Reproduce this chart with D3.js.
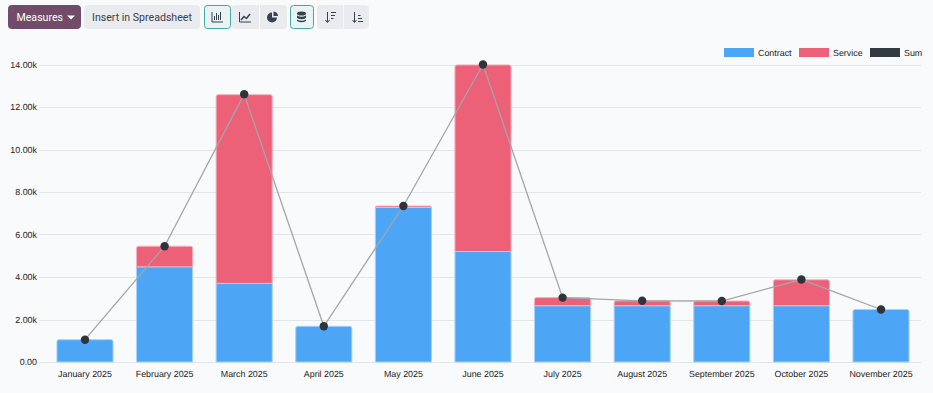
<!DOCTYPE html>
<html>
<head>
<meta charset="utf-8">
<script src="https://cdn.jsdelivr.net/npm/d3@7"></script>
<style>
html, body { margin: 0; padding: 0; background: #f9fafc; overflow: hidden; }
svg { display: block; }
.tool { font-family: Roboto, sans-serif; font-size: 10.6px; }
.axis text, .legend text { font-family: "Liberation Sans", Arial, sans-serif; font-size: 8.9px; fill: #222; text-rendering: geometricPrecision; }
</style>
</head>
<body>
<div class="container"></div>
<script>
const WIDTH = 933;
const HEIGHT = 393;

var months = ["January 2025", "February 2025", "March 2025", "April 2025", "May 2025", "June 2025",
    "July 2025", "August 2025", "September 2025", "October 2025", "November 2025"];
var contract = [1050, 4480, 3700, 1680, 7270, 5200, 2650, 2650, 2650, 2650, 2470];
var service = [0, 970, 8880, 0, 70, 8780, 380, 230, 220, 1220, 0];
var sum = [1050, 5450, 12600, 1680, 7340, 14000, 3030, 2880, 2870, 3880, 2470];
var yTicks = [0, 2000, 4000, 6000, 8000, 10000, 12000, 14000];
var legendItems = ["Contract", "Service", "Sum"];
var legendColors = ["#4ca6f5", "#ed6178", "#343a43"];

var xScale = d3.scaleBand().domain(months).range([45, 921]).paddingInner(0.295).paddingOuter(0.15);
var yScale = d3.scaleLinear().domain([0, 14000]).range([362, 64.5]);

var yFormat = function (v) {
    return v === 0 ? "0.00" : (v / 1000).toFixed(2) + "k";
};
var barPath = function (x, y, w, h, r) {
    r = Math.min(r, h);
    return "M" + x + "," + (y + h) + "V" + (y + r) + "Q" + x + "," + y + " " + (x + r) + "," + y +
        "H" + (x + w - r) + "Q" + (x + w) + "," + y + " " + (x + w) + "," + (y + r) + "V" + (y + h) + "Z";
};

var drawToolbar = function (svg) {
    var g = svg.append("g").attr("class", "tool");
    var btn = function (x, w, fill, stroke, r) {
        g.append("rect").attr("x", x + 0.5).attr("y", 5.5).attr("width", w - 1).attr("height", 23)
            .attr("rx", r === undefined ? 3 : r).attr("fill", fill).attr("stroke", stroke);
    };
    btn(8, 73, "#714b67", "#714b67");
    g.append("text").attr("x", 16.5).attr("y", 21).attr("fill", "#fff").text("Measures");
    g.append("path").attr("d", "M67,15.5h8l-4,4z").attr("fill", "#fff");
    btn(84, 116, "#e9ebee", "#e9ebee");
    g.append("text").attr("x", 92).attr("y", 21).attr("fill", "#374151").text("Insert in Spreadsheet");

    btn(231, 56, "#e9ebee", "#e9ebee");
    btn(290, 24, "#e8f3f4", "#4aa5a8");
    btn(317, 52, "#e9ebee", "#e9ebee");
    btn(204, 27, "#e8f3f4", "#4aa5a8");
    g.append("line").attr("x1", 259.5).attr("x2", 259.5).attr("y1", 5).attr("y2", 29).attr("stroke", "#fff");
    g.append("line").attr("x1", 343.5).attr("x2", 343.5).attr("y1", 5).attr("y2", 29).attr("stroke", "#f5f6f8");

    var ink = "#374151";
    // bar icon
    g.append("path").attr("fill", "none").attr("stroke", ink)
        .attr("d", "M212,12V22H223M214.5,20V16M216.5,20V13M218.5,20V15M220.5,20V12");
    // line icon
    g.append("path").attr("fill", "none").attr("stroke", ink).attr("d", "M239.5,12V22H251");
    g.append("path").attr("fill", "none").attr("stroke", ink).attr("stroke-width", 1.5)
        .attr("d", "M241,20L244,16.5L246.5,18.5L250,14");
    // pie icon
    g.append("path").attr("fill", ink).attr("d", "M272,12.5a5,5 0 1,0 5,5h-5zM273.5,11.5a5,5 0 0,1 4.5,4.5h-4.5z");
    // stack icon
    g.append("ellipse").attr("cx", 301.5).attr("cy", 13.5).attr("rx", 4.5).attr("ry", 2).attr("fill", ink);
    g.append("path").attr("fill", ink).attr("d", "M297,15.5q4.5,2.5 9,0v2.5q-4.5,2.5 -9,0z");
    g.append("path").attr("fill", ink).attr("d", "M297,19.5q4.5,2.5 9,0v1.5q-4.5,2.5 -9,0z");
    // sort icons
    g.append("path").attr("fill", "none").attr("stroke", ink)
        .attr("d", "M327.5,12V22M325.5,20L327.5,22.5L329.5,20M331,12.5H336M331,15.5H335M331,18.5H333.5");
    g.append("path").attr("fill", "none").attr("stroke", ink)
        .attr("d", "M354.5,12V22M352.5,20L354.5,22.5L356.5,20M358,21.5H363M358,18.5H362M358,15.5H360.5");
};

var loadChart = function () {
    var svg = d3.select(".container").append("svg")
        .attr("width", WIDTH)
        .attr("height", HEIGHT);

    drawToolbar(svg);

    var yAxis = d3.axisLeft(yScale).tickValues(yTicks).tickFormat(yFormat).tickSize(0).tickPadding(2);
    var yG = svg.append("g").attr("class", "axis").attr("transform", "translate(39,0)").call(yAxis);
    yG.select(".domain").remove();

    svg.append("g").selectAll("line").data(yTicks).enter().append("line")
        .attr("x1", 39)
        .attr("x2", 921)
        .attr("y1", function (d) { return Math.round(yScale(d)) + 0.5; })
        .attr("y2", function (d) { return Math.round(yScale(d)) + 0.5; })
        .attr("stroke", "#e3e5e9");

    var xAxis = d3.axisBottom(xScale).tickSize(0).tickPadding(9);
    var xG = svg.append("g").attr("class", "axis").attr("transform", "translate(0,362)").call(xAxis);
    xG.select(".domain").remove();

    var bars = svg.append("g");
    bars.selectAll(".contract").data(months).enter().append("path")
        .attr("class", "contract")
        .attr("d", function (m, i) {
            var y = yScale(contract[i]);
            return barPath(xScale(m), y, xScale.bandwidth(), yScale(0) - y, service[i] > 0 ? 0 : 2);
        })
        .attr("fill", legendColors[0])
        .attr("stroke", "#a6d2fa")
        .attr("stroke-width", 1);
    bars.selectAll(".service").data(months).enter().append("path")
        .attr("class", "service")
        .attr("d", function (m, i) {
            if (service[i] === 0) return null;
            var y0 = yScale(contract[i] + service[i]);
            return barPath(xScale(m), y0, xScale.bandwidth(), yScale(contract[i]) - y0, 2);
        })
        .attr("fill", legendColors[1])
        .attr("stroke", "#f6b0bb")
        .attr("stroke-width", 1);

    var xMid = function (m) { return xScale(m) + xScale.bandwidth() / 2; };
    var line = d3.line()
        .x(function (m) { return xMid(m); })
        .y(function (m, i) { return yScale(sum[i]); });
    svg.append("path")
        .attr("d", line(months))
        .attr("fill", "none")
        .attr("stroke", "#a3a5a8")
        .attr("stroke-width", 1.3);
    svg.append("g").selectAll("circle").data(months).enter().append("circle")
        .attr("r", 4.2)
        .attr("cx", xMid)
        .attr("cy", function (m, i) { return yScale(sum[i]); })
        .attr("fill", "#2f343b");

    var legendX = [724, 799, 870];
    var legend = svg.append("g").attr("class", "legend");
    legend.selectAll("rect").data(legendItems).enter().append("rect")
        .attr("x", function (d, i) { return legendX[i]; })
        .attr("y", 48)
        .attr("width", 30)
        .attr("height", 9)
        .attr("fill", function (d, i) { return legendColors[i]; });
    legend.selectAll("text").data(legendItems).enter().append("text")
        .attr("x", function (d, i) { return legendX[i] + 34; })
        .attr("y", 55.5)
        .text(function (d) { return d; });
};

window.onload = loadChart;
</script>
</body>
</html>
